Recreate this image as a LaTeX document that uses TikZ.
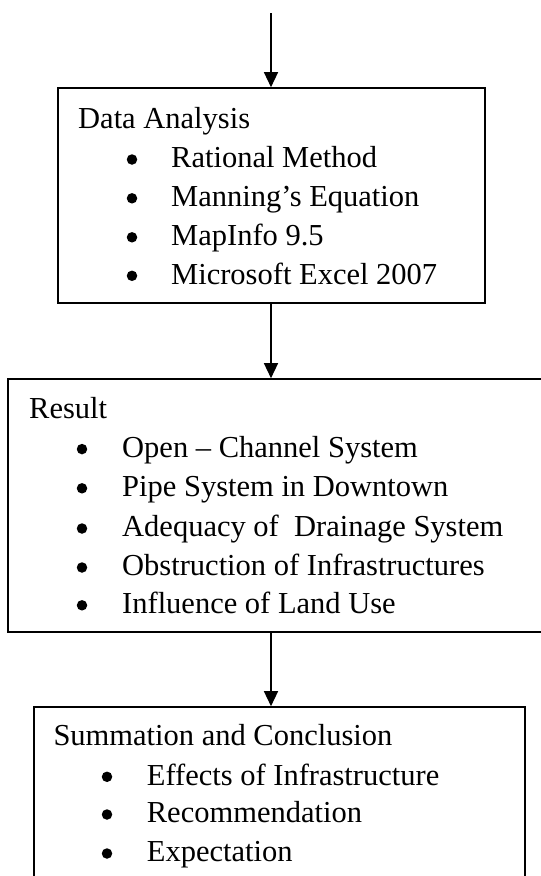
\documentclass[tikz,border=0pt]{standalone}
\usepackage{fontspec}
\setmainfont{Liberation Serif}
\usetikzlibrary{arrows.meta}
\begin{document}
\begin{tikzpicture}[x=1pt,y=-1pt,
  frame/.style={draw=black,line width=1.6pt,rectangle,inner sep=0pt},
  txt/.style={anchor=base west,inner sep=0pt,font=\fontsize{30.5}{38}\selectfont},
  dot/.style={circle,fill=black,inner sep=0pt,minimum size=10.5pt},
  flow/.style={line width=1.4pt,-{Triangle[length=15pt,width=14pt]}}]
\clip (0,0) rectangle (541,876);
% boxes
\node[frame,minimum width=427pt,minimum height=215pt] (analysis) at (271.5,195.5) {};
\node[frame,minimum width=562pt,minimum height=253pt] (result) at (289,505.5) {};
\node[frame,minimum width=491pt,minimum height=213pt] (summary) at (279.5,813.5) {};
% data analysis
\node[txt] (t1) at (78,128.3) {Data Analysis};
\foreach \y/\s [count=\i] in {167.7/Rational Method,206.5/Manning’s Equation,245.5/MapInfo 9.5,284/Microsoft Excel 2007}{
  \node[dot] (b1\i) at (132,\y-8.2) {};
  \node[txt] (i1\i) at (171,\y) {\s};
}
% result
\node[txt] (t2) at (29,418.3) {Result};
\foreach \y/\s [count=\i] in {457.3/Open – Channel System,496.5/Pipe System in Downtown,536.7/Adequacy of\ \ Drainage System,575.7/Obstruction of Infrastructures,613.5/Influence of Land Use}{
  \node[dot] (b2\i) at (82,\y-8.2) {};
  \node[txt] (i2\i) at (122,\y) {\s};
}
% summation
\node[txt] (t3) at (53.3,745.7) {Summation and Conclusion};
\foreach \y/\s [count=\i] in {785/Effects of Infrastructure,822.7/Recommendation,861.7/Expectation}{
  \node[dot] (b3\i) at (107,\y-8.2) {};
  \node[txt] (i3\i) at (146.7,\y) {\s};
}
% connectors
\coordinate (src) at (271,13);
\draw[flow] (src) -- (analysis.north -| src);
\draw[flow] (analysis.south -| src) -- (result.north -| src);
\draw[flow] (result.south -| src) -- (summary.north -| src);
\end{tikzpicture}
\end{document}
